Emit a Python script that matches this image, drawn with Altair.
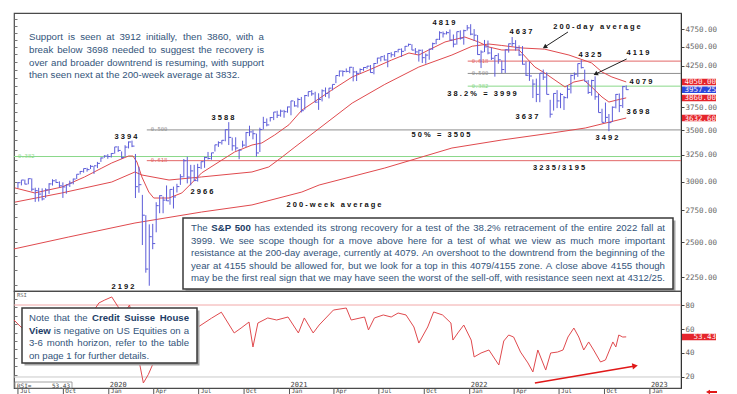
import altair as alt
import pandas as pd

# ---------------- values ----------------
week_start = "2019-07-01"  # weekly bars, plotted on the Monday of each week

bar_high = [
    2996, 3013, 3018, 3028, 3029, 2945, 2944, 2939, 2940, 2985, 3021, 3022, 3002, 2993, 2975, 3008, 3027, 3067, 3097, 3120, 3127, 3154, 3144, 3183, 3226, 3248, 3258,
    3268, 3330, 3338, 3285, 3347, 3385, 3394, 3260, 3137, 2882, 2711, 2637, 2641, 2819, 2879, 2867, 2965, 2931, 2955, 2980, 3068, 3211, 3233, 3155, 3155, 3165, 3186, 3233, 3280, 3272, 3352, 3387, 3399, 3509, 3588, 3425, 3428, 3306, 3393, 3482, 3550, 3502, 3466, 3529, 3646, 3628, 3644, 3699, 3713, 3726, 3723, 3760,
    3826, 3823, 3861, 3871, 3894, 3934, 3951, 3932, 3914, 3960, 3983, 3978, 4020, 4129, 4191, 4194, 4218, 4238, 4237, 4187, 4219, 4234, 4250, 4262, 4286, 4355, 4372, 4393, 4415, 4430, 4440, 4468, 4481, 4513, 4545, 4536, 4485, 4465, 4466, 4412, 4475, 4559, 4608, 4718, 4714, 4718, 4743, 4672, 4713, 4731, 4740, 4808,
    4819, 4749, 4664, 4454, 4596, 4588, 4489, 4385, 4416, 4320, 4465, 4546, 4637, 4593, 4521, 4512, 4308, 4307, 4082, 4091, 4158, 4204, 4169, 3838, 3914, 3951, 3919, 3882, 4012, 4141, 4167, 4281, 4325, 4203, 4073, 4077, 4119, 3907, 3736, 3806, 3677, 3762, 3905, 3912, 4001, 4008]
bar_low = [
    2943, 2966, 2975, 2976, 2914, 2822, 2825, 2834, 2856, 2891, 2964, 2990, 2946, 2856, 2892, 2952, 2975, 3023, 3066, 3082, 3091, 3115, 3070, 3124, 3183, 3223, 3213,
    3225, 3263, 3280, 3214, 3236, 3315, 3328, 2855, 2901, 2478, 2280, 2192, 2447, 2575, 2727, 2727, 2830, 2798, 2766, 2903, 2970, 3038, 2984, 2966, 3004, 3000, 3115, 3127, 3207, 3204, 3284, 3330, 3354, 3387, 3349, 3293, 3292, 3209, 3324, 3330, 3440, 3407, 3234, 3279, 3511, 3543, 3595, 3610, 3633, 3647, 3636, 3691,
    3663, 3760, 3749, 3694, 3725, 3874, 3885, 3805, 3723, 3819, 3871, 3854, 3949, 4035, 4115, 4118, 4169, 4157, 4057, 4061, 4155, 4187, 4214, 4164, 4144, 4279, 4309, 4321, 4233, 4360, 4367, 4426, 4367, 4444, 4508, 4456, 4406, 4306, 4288, 4279, 4330, 4460, 4537, 4595, 4630, 4672, 4585, 4495, 4531, 4600, 4531, 4729,
    4662, 4582, 4395, 4223, 4431, 4401, 4327, 4115, 4279, 4157, 4161, 4424, 4507, 4450, 4381, 4267, 4124, 4063, 3858, 3811, 3810, 4074, 3900, 3637, 3715, 3743, 3742, 3722, 3854, 3912, 4079, 4112, 4218, 4057, 3906, 3886, 3838, 3693, 3585, 3584, 3492, 3590, 3740, 3698, 3745, 3956]
bar_close = [
    2990, 3014, 2977, 3026, 2932, 2919, 2889, 2847, 2926, 2979, 3007, 2992, 2962, 2952, 2970, 2986, 3023, 3067, 3093, 3120, 3110, 3141, 3146, 3169, 3221, 3240, 3235,
    3265, 3330, 3295, 3226, 3328, 3380, 3338, 2954, 2972, 2711, 2305, 2541, 2489, 2790, 2875, 2837, 2831, 2930, 2864, 2955, 3044, 3194, 3041, 3098, 3009, 3130, 3185, 3225, 3216, 3271, 3351, 3373, 3397, 3508, 3427, 3341, 3319, 3298, 3348, 3477, 3484, 3465, 3270, 3509, 3585, 3558, 3638, 3699, 3663, 3709, 3703, 3756,
    3825, 3768, 3841, 3714, 3887, 3934, 3907, 3811, 3842, 3943, 3913, 3975, 4020, 4129, 4185, 4180, 4181, 4233, 4174, 4156, 4204, 4230, 4247, 4166, 4281, 4352, 4370, 4327, 4412, 4395, 4437, 4468, 4441, 4509, 4535, 4458, 4433, 4455, 4357, 4391, 4471, 4545, 4605, 4697, 4682, 4698, 4595, 4538, 4712, 4620, 4726, 4766,
    4677, 4663, 4398, 4432, 4501, 4419, 4349, 4385, 4329, 4204, 4463, 4543, 4546, 4488, 4393, 4272, 4132, 4123, 4024, 3901, 4158, 4109, 3901, 3675, 3912, 3825, 3899, 3863, 3962, 4130, 4145, 4280, 4228, 4058, 3924, 4067, 3873, 3693, 3586, 3640, 3583, 3753, 3901, 3771, 3993, 3957]

ma_short_dates = ["2019-06-25", "2019-08-04", "2019-09-28", "2019-11-13", "2019-12-18", "2020-01-07", "2020-02-10", "2020-02-19", "2020-02-27", "2020-03-08",
                  "2020-03-22", "2020-04-01", "2020-05-02", "2020-05-28", "2020-06-17", "2020-07-07", "2020-08-17", "2020-09-12", "2020-10-17", "2020-11-06",
                  "2020-12-02", "2020-12-31", "2021-01-26", "2021-03-28", "2021-05-08", "2021-06-11", "2021-07-27", "2021-08-31", "2021-09-20", "2021-10-10",
                  "2021-11-12", "2021-12-22", "2022-01-19", "2022-02-09", "2022-03-07", "2022-04-11", "2022-05-13", "2022-06-02", "2022-07-13", "2022-07-31",
                  "2022-08-20", "2022-09-05", "2022-09-26", "2022-10-10", "2022-10-26", "2022-11-14"]
ma_short_vals = [2943, 2899, 2951, 3042, 3125, 3173, 3240, 3240, 3182, 3042,
                 2907, 2855, 2855, 2899, 2987, 3079, 3201, 3280, 3349, 3370,
                 3452, 3560, 3720, 3953, 4111, 4198, 4327, 4419, 4392, 4459,
                 4568, 4637, 4568, 4499, 4459, 4459, 4236, 4160, 3989, 4049,
                 4074, 3989, 3870, 3812, 3835, 3860]

ma200d_dates = ["2019-06-25", "2019-09-28", "2020-01-07", "2020-02-23", "2020-03-08", "2020-05-02", "2020-07-07", "2020-10-17", "2020-11-20", "2020-12-17",
                "2021-01-12", "2021-03-02", "2021-05-08", "2021-07-13", "2021-09-20", "2021-11-26", "2022-01-06", "2022-02-09", "2022-03-07", "2022-04-17",
                "2022-06-02", "2022-07-21", "2022-09-05", "2022-09-26", "2022-10-16", "2022-11-14"]
ma200d_vals = [2820, 2899, 2996, 3088, 3060, 3014, 3042, 3088, 3135, 3230,
               3329, 3520, 3800, 4020, 4236, 4392, 4510, 4540, 4520, 4486,
               4470, 4392, 4288, 4173, 4111, 4050]

ma200w_dates = ["2019-06-23", "2019-10-12", "2020-02-23", "2020-07-07", "2020-10-17", "2021-01-26", "2021-03-02", "2021-07-13", "2021-11-26", "2022-03-07",
                "2022-06-17", "2022-08-23", "2022-11-14"]
ma200w_vals = [2449, 2539, 2648, 2737, 2796, 2907, 2969, 3125, 3319, 3400, 3473, 3525, 3633]

rsi_dates = ["2019-06-23", "2019-07-05", "2019-08-18", "2019-09-28", "2019-10-28", "2019-11-23", "2019-12-12", "2019-12-24", "2020-01-07", "2020-01-19",
             "2020-01-31", "2020-02-12", "2020-02-24", "2020-03-03", "2020-03-11", "2020-03-21", "2020-04-16", "2020-05-17", "2020-06-12", "2020-06-30",
             "2020-07-27", "2020-08-16", "2020-09-11", "2020-09-25", "2020-10-11", "2020-10-19", "2020-10-29", "2020-11-18", "2020-12-06", "2020-12-29",
             "2021-01-19", "2021-01-31", "2021-02-18", "2021-03-02", "2021-03-31", "2021-04-26", "2021-05-06", "2021-06-02", "2021-06-10", "2021-06-22",
             "2021-07-10", "2021-07-26", "2021-08-09", "2021-08-25", "2021-09-10", "2021-09-20", "2021-10-08", "2021-10-20", "2021-11-07", "2021-11-24",
             "2021-11-28", "2021-12-08", "2021-12-20", "2022-01-04", "2022-01-10", "2022-01-24", "2022-02-09", "2022-03-01", "2022-03-11", "2022-03-21",
             "2022-03-31", "2022-04-14", "2022-04-29", "2022-05-09", "2022-05-19", "2022-06-04", "2022-06-14", "2022-06-28", "2022-07-09", "2022-07-19",
             "2022-07-31", "2022-08-10", "2022-08-20", "2022-08-30", "2022-09-09", "2022-09-23", "2022-10-03", "2022-10-18", "2022-10-24", "2022-10-30",
             "2022-11-07", "2022-11-14"]
rsi_vals = [67.5, 62.5, 46.7, 55, 58, 70, 81.7, 84.2, 86.7, 79,
            72, 80, 55, 32, 15, 22, 46.7, 55, 59, 61.7,
            69, 74, 56.7, 60.8, 65.8, 45, 65, 69.2, 67.5, 70,
            56.7, 69.2, 56.7, 63.3, 75.8, 77.5, 67.5, 70, 59.2, 69.2,
            71.7, 70, 73.3, 71.7, 61.7, 48.3, 61.7, 74.2, 71.7, 65,
            50.8, 56.7, 63.3, 50.8, 36.7, 40, 42.5, 30, 50, 55,
            53.3, 40.8, 31.7, 24.2, 42.5, 25.8, 40, 40.8, 42.5, 53.3,
            60.8, 53.3, 42.5, 49.2, 42.5, 32.5, 34.2, 49.2, 45, 55,
            53.3, 53.43]

fib_levels = [3235, 3195, 3505, 4312, 4155, 3999]
fib_names = ["0.382", "0.618", "0.500", "0.618", "0.500", "0.382"]
fib_starts = ["2019-06-23", "2020-03-18", "2020-03-18", "2021-12-28", "2021-12-28", "2021-12-28"]
fib_colors = ["#8ad88a", "#e26868", "#8f8f8f", "#e26868", "#8f8f8f", "#8ad88a"]

price_axis_values = [2250, 2500, 2750, 3000, 3250, 3500, 3750, 4250, 4500, 4750]
rsi_axis_values = [20, 40, 60, 80]
rsi_guides = [80, 20]

tag_values = [4050.00, 3957.25, 3860.00, 3632.60]
tag_colors = ["#e5242b", "#2c46dc", "#e5242b", "#e5242b"]
rsi_last = 53.43

quarter_ticks = ["2019-07-01", "2019-10-01", "2020-01-01", "2020-04-01", "2020-07-01", "2020-10-01", "2021-01-01", "2021-04-01",
                 "2021-07-01", "2021-10-01", "2022-01-01", "2022-04-01", "2022-07-01", "2022-10-01", "2023-01-01"]
year_marks = [2020, 2021, 2022, 2023]

ann_text = ["3394", "3588", "2966", "2192", "4819", "4637", "200-day average", "4325", "4119", "4079",
            "38.2% = 3999", "3637", "3698", "3492", "50% = 3505", "3235/3195", "200-week average"]
ann_x = [124, 221, 200, 121, 442, 519, 595, 588, 636, 639, 480, 525, 636, 605, 439, 557, 332]
ann_y = [137, 118, 192, 287, 23, 32, 27, 55, 53, 82, 93.5, 117, 112, 138, 135, 168, 205]

top_left_lines = ["Support is seen at 3912 initially, then 3860, with a",
                  "break below 3698 needed to suggest the recovery is",
                  "over and broader downtrend is resuming, with support",
                  "then seen next at the 200-week average at 3832."]
main_box_lines = ["The **S&P 500** has extended its strong recovery for a test of the 38.2% retracement of the entire 2022 fall at",
                  "3999. We see scope though for a move above here for a test of what we view as much more important",
                  "resistance at the 200-day average, currently at 4079. An overshoot to the downtrend from the beginning of the",
                  "year at 4155 should be allowed for, but we look for a top in this 4079/4155 zone. A close above 4155 though",
                  "may be the first real sign that we may have seen the worst of the sell-off, with resistance seen next at 4312/25."]
note_lines = ["Note that the **Credit Suisse House**",
              "**View** is negative on US Equities on a",
              "3-6 month horizon, refer to the table",
              "on page 1 for further details."]

assert len(bar_high) == len(bar_low) == len(bar_close) == 177
assert len(rsi_dates) == len(rsi_vals)
assert len(ma_short_dates) == len(ma_short_vals)
assert len(ma200d_dates) == len(ma200d_vals)
assert len(ma200w_dates) == len(ma200w_vals)

# ---------------- layout constants ----------------
W, HM, HR = 667, 278, 97
OX, OYM, OYR = 12, 13, 291
MONO = "DejaVu Sans Mono"
SANS = "Liberation Sans"
RED = "#e04a4e"
BAR = "#5c5cd8"
TXT = "#33547a"
TXTB = "#1d3d66"

AR = {' ': 278, '.': 278, ',': 278, '%': 889, '/': 278, '-': 333, '&': 667, '=': 584,
      'A': 667, 'B': 667, 'C': 722, 'D': 722, 'E': 667, 'F': 611, 'G': 778, 'H': 722, 'I': 278, 'J': 500, 'K': 667,
      'L': 556, 'M': 833, 'N': 722, 'O': 778, 'P': 667, 'Q': 778, 'R': 722, 'S': 667, 'T': 611, 'U': 722, 'V': 667,
      'W': 944, 'X': 667, 'Y': 667, 'Z': 611,
      'a': 556, 'b': 556, 'c': 500, 'd': 556, 'e': 556, 'f': 278, 'g': 556, 'h': 556, 'i': 222, 'j': 222, 'k': 500,
      'l': 222, 'm': 833, 'n': 556, 'o': 556, 'p': 556, 'q': 556, 'r': 333, 's': 500, 't': 278, 'u': 556, 'v': 500,
      'w': 722, 'x': 500, 'y': 500, 'z': 500}
AB = {' ': 278, '.': 278, ',': 278, '%': 889, '/': 278, '-': 333, '&': 722, '=': 584,
      'A': 722, 'B': 722, 'C': 722, 'D': 722, 'E': 667, 'F': 611, 'G': 778, 'H': 722, 'I': 278, 'J': 556, 'K': 722,
      'L': 611, 'M': 833, 'N': 722, 'O': 778, 'P': 667, 'Q': 778, 'R': 722, 'S': 667, 'T': 611, 'U': 722, 'V': 667,
      'W': 944, 'X': 667, 'Y': 667, 'Z': 611,
      'a': 556, 'b': 611, 'c': 556, 'd': 611, 'e': 556, 'f': 333, 'g': 611, 'h': 611, 'i': 278, 'j': 278, 'k': 556,
      'l': 278, 'm': 889, 'n': 611, 'o': 611, 'p': 611, 'q': 611, 'r': 389, 's': 556, 't': 333, 'u': 611, 'v': 556,
      'w': 778, 'x': 556, 'y': 556, 'z': 500}


def tokens_of(line):
    out = []
    for i, seg in enumerate(line.split("**")):
        for w in seg.split():
            out.append((w, i % 2 == 1))
    return out


def text_width(word, bold, fs):
    tbl = AB if bold else AR
    return sum(tbl.get(c, 556) for c in word) * fs / 1000.0


def layout(lines, x0, width, centers, justify, fsmax):
    toks = [tokens_of(l) for l in lines]
    ems = [sum(text_width(w, b, 1.0) for w, b in tk) + 0.278 * (len(tk) - 1)
           for tk, j in zip(toks, justify) if j]
    fs = min(fsmax, 0.995 * width / max(ems))
    rows = []
    for tk, yc, j in zip(toks, centers, justify):
        ws = [text_width(w, b, fs) for w, b in tk]
        gap = (width - sum(ws)) / (len(tk) - 1) if (j and len(tk) > 1) else 0.278 * fs
        x = x0
        for (w, b), ww in zip(tk, ws):
            rows.append({"px": x, "py": yc, "t": w, "bold": b, "fs": fs})
            x += ww + gap
    return rows


def spaced(s):
    return ("\u00a0" * 3).join("\u00a0".join(list(w)) for w in s.split(" "))


xs = alt.Scale(domain=[alt.DateTime(year=2019, month=6, date=23), alt.DateTime(year=2023, month=3, date=5)], nice=False)
ys = alt.Scale(type="log", domain=[2157.6, 4984.6], nice=False)
rs = alt.Scale(domain=[10.83, 91.67], nice=False, zero=False)


def XT(f, axis=None):
    return alt.X(f"{f}:T", scale=xs, axis=axis)


def YP(f, axis=None):
    return alt.Y(f"{f}:Q", scale=ys, axis=axis)


def YR(f, axis=None):
    return alt.Y(f"{f}:Q", scale=rs, axis=axis)


def PX(f="px"):
    return alt.X(f"{f}:Q", scale=None, axis=None)


def PY(f="py"):
    return alt.Y(f"{f}:Q", scale=None, axis=None)


price_axis = alt.Axis(orient="right", values=price_axis_values, format=".2f", labelFont=MONO, labelFontSize=7.5,
                      labelColor="#666666", tickColor="#444444", tickSize=3, labelPadding=1, domainColor="#333333",
                      grid=False, title=None, labelOverlap=False)
left_ticks = alt.Axis(orient="left", values=list(range(2200, 5000, 100)), labels=False, domain=False, tickSize=3,
                      offset=-3, tickColor="#777777", grid=False, title=None)
rsi_axis = alt.Axis(orient="right", values=rsi_axis_values, format="d", labelFont=MONO, labelFontSize=7.5,
                    labelColor="#666666", tickColor="#444444", tickSize=3, labelPadding=1, domainColor="#333333",
                    grid=False, title=None)
rsi_left_axis = alt.Axis(orient="left", values=list(range(15, 92, 7)), labels=False, domain=False, tickSize=3,
                         offset=-3, tickColor="#777777", grid=False, title=None)

# ---------------- main panel ----------------
bars_df = pd.DataFrame({"date": pd.date_range(week_start, periods=len(bar_high), freq="W-MON"),
                        "high": bar_high, "low": bar_low, "close": bar_close})
ma_df = pd.concat([
    pd.DataFrame({"date": pd.to_datetime(ma_short_dates), "val": ma_short_vals, "name": "short"}),
    pd.DataFrame({"date": pd.to_datetime(ma200d_dates), "val": ma200d_vals, "name": "200d"}),
    pd.DataFrame({"date": pd.to_datetime(ma200w_dates), "val": ma200w_vals, "name": "200w"}),
])
fib_df = pd.DataFrame({"level": fib_levels, "name": fib_names, "start": pd.to_datetime(fib_starts), "col": fib_colors})

fib_rules = alt.Chart(fib_df).mark_rule(strokeWidth=1).encode(
    x=XT("start"), x2=alt.value(W), y=YP("level"), color=alt.Color("col:N", scale=None))
fib_text = alt.Chart(fib_df).mark_text(align="left", baseline="middle", dx=4, dy=-0.5, font=MONO, fontSize=5.5).encode(
    x=XT("start"), y=YP("level"), text="name:N", color=alt.Color("col:N", scale=None))
ma_lines = alt.Chart(ma_df).mark_line(color=RED, strokeWidth=1).encode(
    x=XT("date"), y=YP("val", left_ticks), detail="name:N")
bar_rules = alt.Chart(bars_df).mark_rule(color=BAR, strokeWidth=1).encode(
    x=XT("date"), y=YP("low", price_axis), y2="high:Q")
close_ticks = alt.Chart(bars_df).mark_rule(color=BAR, strokeWidth=1, x2Offset=2.5).encode(
    x=XT("date"), x2=alt.X2("date:T"), y=YP("close"))

arrow_df = pd.DataFrame({"d1": pd.to_datetime(["2022-07-19", "2022-11-15"]), "v1": [4707, 4340],
                         "d2": pd.to_datetime(["2022-06-02", "2022-09-13"]), "v2": [4499, 4148], "ang": [148, 153]})
arrow_lines = alt.Chart(arrow_df).mark_rule(color="#222222", strokeWidth=1).encode(
    x=XT("d1"), y=YP("v1"), x2="d2:T", y2="v2:Q")
arrow_heads = alt.Chart(arrow_df).mark_point(shape="triangle-right", filled=True, size=26, color="#222222", opacity=1).encode(
    x=XT("d2"), y=YP("v2"), angle=alt.Angle("ang:Q", scale=None))

ann_df = pd.DataFrame({"px": [x - OX for x in ann_x], "py": [y - OYM for y in ann_y], "t": [spaced(s) for s in ann_text]})
ann = alt.Chart(ann_df).mark_text(font=SANS, fontWeight="bold", fontSize=7.5, color="#111111", align="center",
                                  baseline="middle").encode(x=PX(), y=PY(), text="t:N")

tl_rows = layout(top_left_lines, 15, 235, [24, 37, 50, 62], [1, 1, 1, 0], 9.7)
box_rows = layout(main_box_lines, 177, 474, [215, 227.5, 240, 252.5, 265], [1, 1, 1, 1, 1], 10.2)
mw = pd.DataFrame(tl_rows + box_rows)
box_shadow = alt.Chart(pd.DataFrame({"px": [171.5], "px2": [661.5], "py": [207.5], "py2": [278]})).mark_rect(
    color="#a5a5a5").encode(x=PX(), x2="px2:Q", y=PY(), y2="py2:Q")
box_rect = alt.Chart(pd.DataFrame({"px": [169], "px2": [659], "py": [205], "py2": [276]})).mark_rect(
    fill="white", stroke="#3a3a3a", strokeWidth=1.5).encode(x=PX(), x2="px2:Q", y=PY(), y2="py2:Q")
mw_reg = alt.Chart(mw[~mw["bold"]]).mark_text(font=SANS, align="left", baseline="middle", color=TXT).encode(
    x=PX(), y=PY(), text="t:N", size=alt.Size("fs:Q", scale=None))
mw_bold = alt.Chart(mw[mw["bold"]]).mark_text(font=SANS, fontWeight="bold", align="left", baseline="middle",
                                               color=TXTB).encode(
    x=PX(), y=PY(), text="t:N", size=alt.Size("fs:Q", scale=None))

tag_df = pd.DataFrame({"v": tag_values, "col": tag_colors})
tag_bg = alt.Chart(tag_df).mark_rule(strokeWidth=6.5).encode(
    x=alt.value(668), x2=alt.value(702), y=YP("v"), color=alt.Color("col:N", scale=None))
tag_txt = alt.Chart(tag_df).mark_text(align="right", baseline="middle", font=MONO, fontSize=7.5, color="#fff2f2",
                                      dy=0.5).encode(x=alt.value(702), y=YP("v"), text=alt.Text("v:Q", format=".2f"))

main = alt.layer(fib_rules, fib_text, ma_lines, bar_rules, close_ticks, arrow_lines, arrow_heads,
                 box_shadow, box_rect, mw_reg, mw_bold, ann, tag_bg, tag_txt
                 ).resolve_axis(y="independent").properties(width=W, height=HM)

# ---------------- RSI panel ----------------
rsi_df = pd.DataFrame({"date": pd.to_datetime(rsi_dates), "rsi": rsi_vals})
guides_df = pd.DataFrame({"g": rsi_guides, "col": ["#f2a8a8", "#c9c9c9"]})
guides = alt.Chart(guides_df).mark_rule(strokeWidth=1).encode(
    x=alt.value(0), x2=alt.value(W), y=YR("g", rsi_left_axis), color=alt.Color("col:N", scale=None))
rsi_line = alt.Chart(rsi_df).mark_line(color=RED, strokeWidth=1).encode(
    x=XT("date"), y=YR("rsi", rsi_axis))

rarrow_df = pd.DataFrame({"d1": pd.to_datetime(["2022-05-13"]), "v1": [15.0],
                          "d2": pd.to_datetime(["2022-12-02"]), "v2": [29.2], "ang": [350]})
rarrow_line = alt.Chart(rarrow_df).mark_rule(color="#e01818", strokeWidth=1.6).encode(
    x=XT("d1"), y=YR("v1"), x2="d2:T", y2="v2:Q")
rarrow_head = alt.Chart(rarrow_df).mark_point(shape="triangle-right", filled=True, size=40, color="#e01818",
                                              opacity=1).encode(
    x=XT("d2"), y=YR("v2"), angle=alt.Angle("ang:Q", scale=None))

year_df = pd.DataFrame({"date": pd.to_datetime([f"{y}-01-01" for y in year_marks]), "t": [str(y) for y in year_marks]})
years = alt.Chart(year_df).mark_text(align="left", baseline="bottom", dx=1, font=MONO, fontSize=7,
                                     color="#444444").encode(x=XT("date"), y=alt.value(HR - 0.5), text="t:N")

q_df = pd.DataFrame({"date": pd.to_datetime(quarter_ticks)})
q_ticks = alt.Chart(q_df).mark_rule(color="#555555", strokeWidth=1).encode(
    x=XT("date"), y=alt.value(HR), y2=alt.value(HR + 7))
q_labels = alt.Chart(q_df).mark_text(align="left", baseline="alphabetic", dx=2, font=MONO, fontSize=6,
                                     color="#444444").encode(
    x=XT("date"), y=alt.value(HR + 5), text=alt.Text("date:T", format="%b"))

note_rows = layout(note_lines, 15, 160, [27, 39.5, 52, 64.5], [1, 1, 1, 0], 9.6)
nw = pd.DataFrame(note_rows)
note_shadow = alt.Chart(pd.DataFrame({"px": [10.5], "px2": [185.5], "py": [19.5], "py2": [74.5]})).mark_rect(
    color="#a5a5a5").encode(x=PX(), x2="px2:Q", y=PY(), y2="py2:Q")
note_rect = alt.Chart(pd.DataFrame({"px": [8], "px2": [183], "py": [17], "py2": [72]})).mark_rect(
    fill="white", stroke="#3a3a3a", strokeWidth=1.5).encode(x=PX(), x2="px2:Q", y=PY(), y2="py2:Q")
nw_reg = alt.Chart(nw[~nw["bold"]]).mark_text(font=SANS, align="left", baseline="middle", color=TXT).encode(
    x=PX(), y=PY(), text="t:N", size=alt.Size("fs:Q", scale=None))
nw_bold = alt.Chart(nw[nw["bold"]]).mark_text(font=SANS, fontWeight="bold", align="left", baseline="middle",
                                               color=TXTB).encode(
    x=PX(), y=PY(), text="t:N", size=alt.Size("fs:Q", scale=None))

rtag_df = pd.DataFrame({"v": [rsi_last]})
rtag_bg = alt.Chart(rtag_df).mark_rule(strokeWidth=6.5, color="#e5242b").encode(
    x=alt.value(668), x2=alt.value(702), y=YR("v"))
rtag_txt = alt.Chart(rtag_df).mark_text(align="right", baseline="middle", font=MONO, fontSize=7.5, color="#fff2f2",
                                        dy=0.5).encode(x=alt.value(702), y=YR("v"), text=alt.Text("v:Q", format=".2f"))

one = pd.DataFrame({"a": [0]})
rsi_lbl = alt.Chart(one).mark_text(text="RSI", align="left", baseline="middle", font=MONO, fontSize=5.5,
                                   color="#666666").encode(x=alt.value(3), y=alt.value(4))
rsi_box = alt.Chart(one).mark_rect(fill="white", stroke="#8a8a8a", strokeWidth=0.8).encode(
    x=alt.value(1), x2=alt.value(58), y=alt.value(91), y2=alt.value(97))
rsi_box_t1 = alt.Chart(one).mark_text(text="RSI=", align="left", baseline="middle", font=MONO, fontSize=6,
                                      color="#444444").encode(x=alt.value(3), y=alt.value(94.5))
rsi_box_t2 = alt.Chart(rtag_df).mark_text(align="right", baseline="middle", font=MONO, fontSize=6,
                                          color="#444444").encode(
    x=alt.value(56), y=alt.value(94.5), text=alt.Text("v:Q", format=".2f"))
corner_rule = alt.Chart(one).mark_rule(color="#e01818", strokeWidth=2).encode(
    x=alt.value(695), x2=alt.value(703), y=alt.value(101))
corner_head = alt.Chart(one).mark_point(shape="triangle-left", filled=True, size=22, color="#e01818",
                                        opacity=1).encode(x=alt.value(694), y=alt.value(101))

rsi = alt.layer(guides, rsi_line, rarrow_line, rarrow_head, years, q_ticks, q_labels,
                note_shadow, note_rect, nw_reg, nw_bold,
                rtag_bg, rtag_txt, rsi_lbl, rsi_box, rsi_box_t1, rsi_box_t2, corner_rule, corner_head
                ).resolve_axis(y="independent").properties(width=W, height=HR)

chart = alt.vconcat(main, rsi, spacing=0, bounds="flush").properties(
    padding={"left": 3, "top": 4, "right": 4, "bottom": 0}, background="white"
).configure_view(stroke="#4a4a4a", strokeWidth=1.2)

chart.save("out.html", embed_options={"renderer": "svg", "actions": False})
